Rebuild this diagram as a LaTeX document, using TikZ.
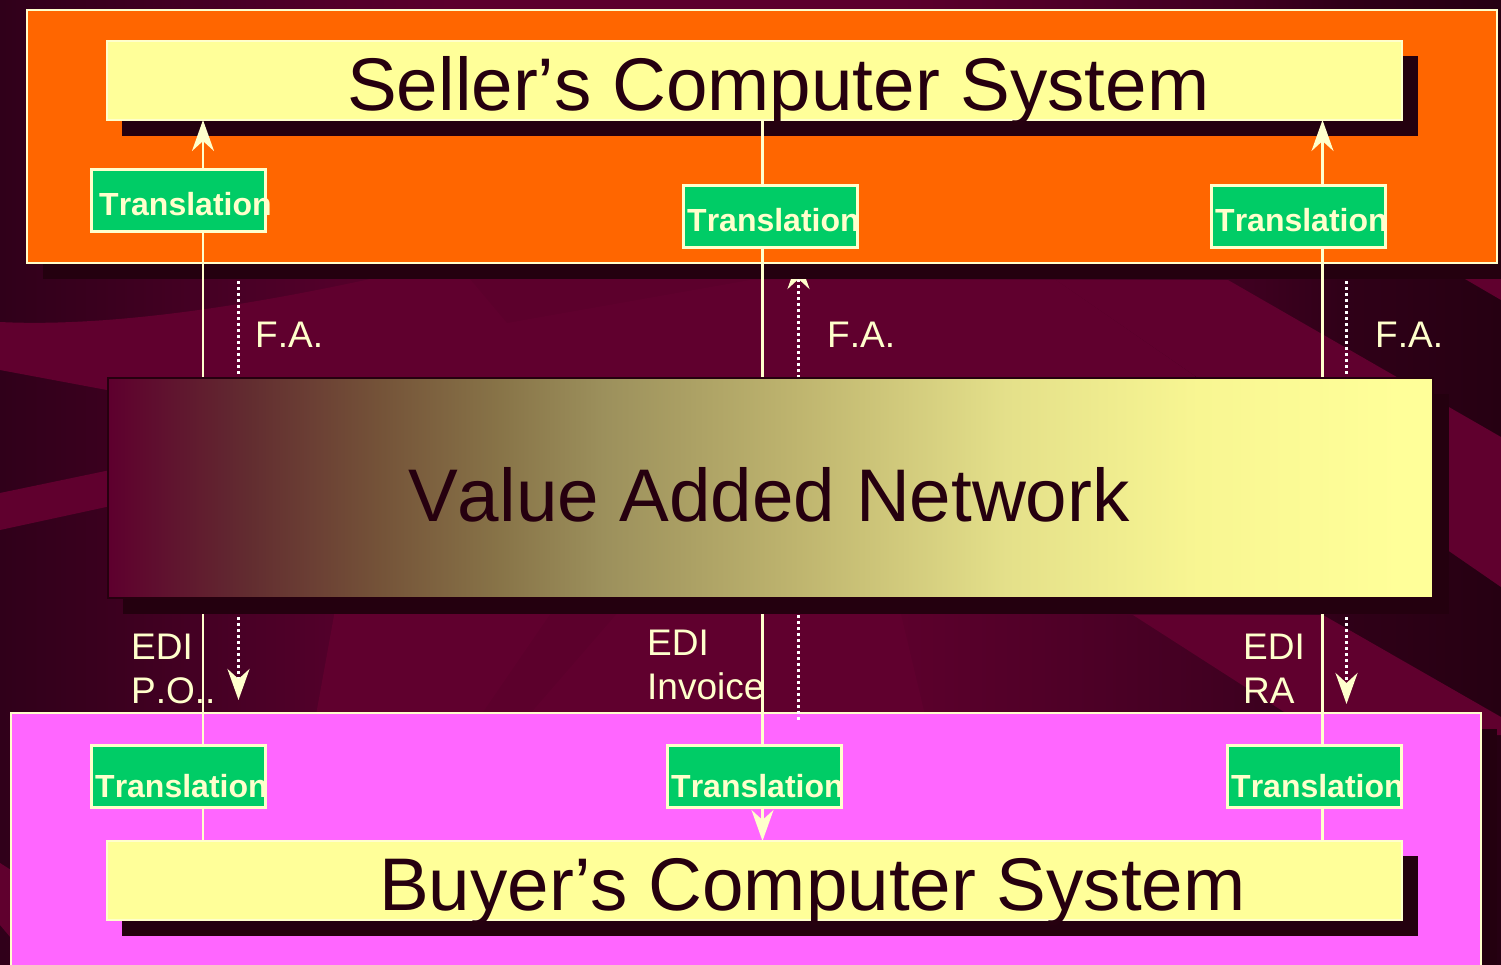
\documentclass[tikz,border=0pt]{standalone}
\usepackage{fontspec}
\setmainfont[Kerning=Off]{Liberation Sans}
\usetikzlibrary{arrows.meta,calc}
\definecolor{cream}{HTML}{FFFFCC}
\definecolor{paleyellow}{HTML}{FFFF99}
\definecolor{shadowc}{HTML}{24000F}
\definecolor{inkc}{HTML}{26000F}
\definecolor{orangec}{HTML}{FF6600}
\definecolor{pinkc}{HTML}{FF66FF}
\definecolor{greenc}{HTML}{00CC66}
\definecolor{bandc}{HTML}{60002E}
\pgfdeclarehorizontalshading{bgshade}{100bp}{rgb(0bp)=(.188,0,.102); rgb(25bp)=(.188,0,.102); rgb(28.33bp)=(.227,0,.118); rgb(33.33bp)=(.29,0,.149); rgb(36bp)=(.322,0,.165); rgb(40bp)=(.361,0,.173); rgb(55bp)=(.361,0,.173); rgb(61.64bp)=(.298,0,.149); rgb(66.64bp)=(.243,0,.125); rgb(69.64bp)=(.188,0,.094); rgb(75bp)=(.149,0,.071); rgb(100bp)=(.149,0,.071)}
\pgfdeclarehorizontalshading{vanshade}{100bp}{rgb(0bp)=(.369,0,.18); rgb(25.08bp)=(.369,0,.18); rgb(30.25bp)=(.384,.173,.188); rgb(35.15bp)=(.455,.322,.22); rgb(39.8bp)=(.533,.455,.282); rgb(43.7bp)=(.612,.565,.361); rgb(51.1bp)=(.749,.71,.435); rgb(58.9bp)=(.894,.878,.541); rgb(66.2bp)=(.973,.965,.573); rgb(73.8bp)=(1,1,.6); rgb(100bp)=(1,1,.6)}
\tikzset{
  panel/.style={draw=cream,line width=2.4pt,inner sep=0pt,outer sep=0pt},
  transbox/.style={draw=cream,line width=3pt,fill=greenc,inner sep=0pt,outer sep=0pt,minimum width=173.5pt,minimum height=61.5pt},
  translabel/.style={anchor=base west,inner sep=0pt,text=cream,font=\fontsize{32}{32}\selectfont\bfseries},
  biglabel/.style={anchor=base west,inner sep=0pt,text=inkc,font=\fontsize{74.6}{74.6}\selectfont},
  smalllabel/.style={anchor=base west,inner sep=0pt,text=cream,font=\fontsize{37}{37}\selectfont},
  solidline/.style={draw=cream,line width=2.4pt},
  dotline/.style={draw=white,line width=3.4pt,dash pattern=on 3pt off 3pt},
  headtip/.style={-{Stealth[length=31pt,width=22pt,inset=10pt,color=cream]}},
  shadowfill/.style={fill=shadowc},
  bandfill/.style={fill=bandc}
}
\begin{document}
\begin{tikzpicture}[x=1pt,y=-1pt]
\useasboundingbox (0,0) rectangle (1501,964);
\clip (0,0) rectangle (1501,964);
% background
\shade[shading=bgshade] (0,0) rectangle (1501,964);
\fill[bandfill] (0,322) .. controls (80,326) and (200,316) .. (370,279) -- (470,279) -- (507,323) -- (750,280) -- (1056,280) -- (1195,376) -- (1195,390) -- (107,390) -- (0,370) -- cycle;
\fill[bandfill] (1056,280) -- (1228,280) -- (1501,437) -- (1501,587) -- cycle;
\fill[bandfill] (1465,279) -- (1501,279) -- (1501,300) -- cycle;
\fill[bandfill] (1133,615) -- (1323,615) -- (1501,717) -- (1501,735) -- (1320,735) -- cycle;
\fill[bandfill] (0,493) -- (120,468) -- (120,504) -- (0,530) -- cycle;
\fill[bandfill] (0,863) -- (11,870) -- (11,938) -- (0,925) -- cycle;
\fill[bandfill] (335,610) -- (316,715) -- (481,715) -- (553,610) -- cycle;
\fill[bandfill] (620,610) -- (529,715) -- (925,715) -- (900,610) -- cycle;
% buyer panel
\fill[shadowfill] (27,729) rectangle (1497,990);
\node[panel,fill=pinkc,minimum width=1470pt,minimum height=272pt] (buyer) at (746,849) {};
% named free ends
\coordinate (colA) at (203,0);
\coordinate (colB) at (762.5,0);
\coordinate (colC) at (1322.5,0);
\coordinate (dotA) at (238.5,700);
\coordinate (dotB) at (798.5,258);
\coordinate (dotBstart) at (798.5,720);
\coordinate (dotC) at (1346.5,704);
\path (27,263) coordinate (sellerbase);
\draw[dotline,headtip] (sellerbase -| dotA) -- (dotA);
\draw[dotline,headtip] (dotBstart) -- (dotB);
\draw[dotline,headtip] (sellerbase -| dotC) -- (dotC);
% seller panel
\fill[shadowfill] (43,26) rectangle (1513,279);
\node[panel,fill=orangec,minimum width=1470pt,minimum height=253pt] (seller) at (762,136.5) {};
% computer systems shadows
\fill[shadowfill] (122,56) rectangle (1418,136);
\fill[shadowfill] (122,856) rectangle (1418,936);
% nodes
\node[panel,fill=paleyellow,line width=1.4pt,minimum width=1295pt,minimum height=79pt] (sellercomp) at (754.5,80.5) {};
\node[panel,fill=paleyellow,line width=1.4pt,minimum width=1295pt,minimum height=79pt] (buyercomp) at (754.5,880.5) {};
% connectors
\path (178.5,200.5) coordinate (c1) (770.5,216.5) coordinate (c2) (1298.5,216.5) coordinate (c3) (178.5,776.5) coordinate (c4) (754.5,776.5) coordinate (c5) (1314.5,776.5) coordinate (c6);
\node[transbox] (t1) at (c1) {};
\node[transbox] (t2) at (c2) {};
\node[transbox] (t3) at (c3) {};
\node[transbox] (t4) at (c4) {};
\node[transbox] (t6) at (c6) {};
\coordinate (t5s) at (754.5,808);
\draw[solidline] (t4.north -| colA) -- (t1.south -| colA);
\draw[solidline,headtip] (t1.north -| colA) -- (sellercomp.south -| colA);
\draw[solidline] (sellercomp.south -| colB) -- (t2.north -| colB);
\draw[solidline] (t2.south -| colB) -- (t5s -| colB);
\draw[solidline,headtip] (t5s -| colB) -- (buyercomp.north -| colB);
\draw[solidline] (t6.north -| colC) -- (t3.south -| colC);
\draw[solidline,headtip] (t3.north -| colC) -- (sellercomp.south -| colC);
\draw[solidline] (t4.south -| colA) -- (buyercomp.north -| colA);
\draw[solidline] (t6.south -| colC) -- (buyercomp.north -| colC);
% boxes that sit over the connectors
\node[transbox] (t5) at (c5) {};
\fill[shadowfill] (123,394) rectangle (1449,614);
\node[draw=inkc,line width=2pt,inner sep=0pt,outer sep=0pt,shading=vanshade,minimum width=1325pt,minimum height=220pt] (van) at (770.5,488) {};
% texts
\node[biglabel] (sellertext) at (347,110) {Seller’s Computer System};
\node[biglabel] (buyertext) at (379,910) {Buyer’s Computer System};
\node[biglabel] (vantext) at (408,521) {Value Added Network};
\node[translabel] (l1) at (99,215) {Translation};
\node[translabel] (l2) at (687,231) {Translation};
\node[translabel] (l3) at (1215,231) {Translation};
\node[translabel] (l4) at (95,797) {Translation};
\node[translabel] (l5) at (671,797) {Translation};
\node[translabel] (l6) at (1231,797) {Translation};
\node[smalllabel] (fa1) at (255,347) {F.A.};
\node[smalllabel] (fa2) at (827,347) {F.A.};
\node[smalllabel] (fa3) at (1375,347) {F.A.};
\node[smalllabel] (edi1) at (131,659) {EDI};
\node[smalllabel] (po) at (131,703) {P.O..};
\node[smalllabel] (edi2) at (647,655) {EDI};
\node[smalllabel] (inv) at (647,699) {Invoice};
\node[smalllabel] (edi3) at (1243,659) {EDI};
\node[smalllabel] (ra) at (1243,703) {RA};
\end{tikzpicture}
\end{document}
